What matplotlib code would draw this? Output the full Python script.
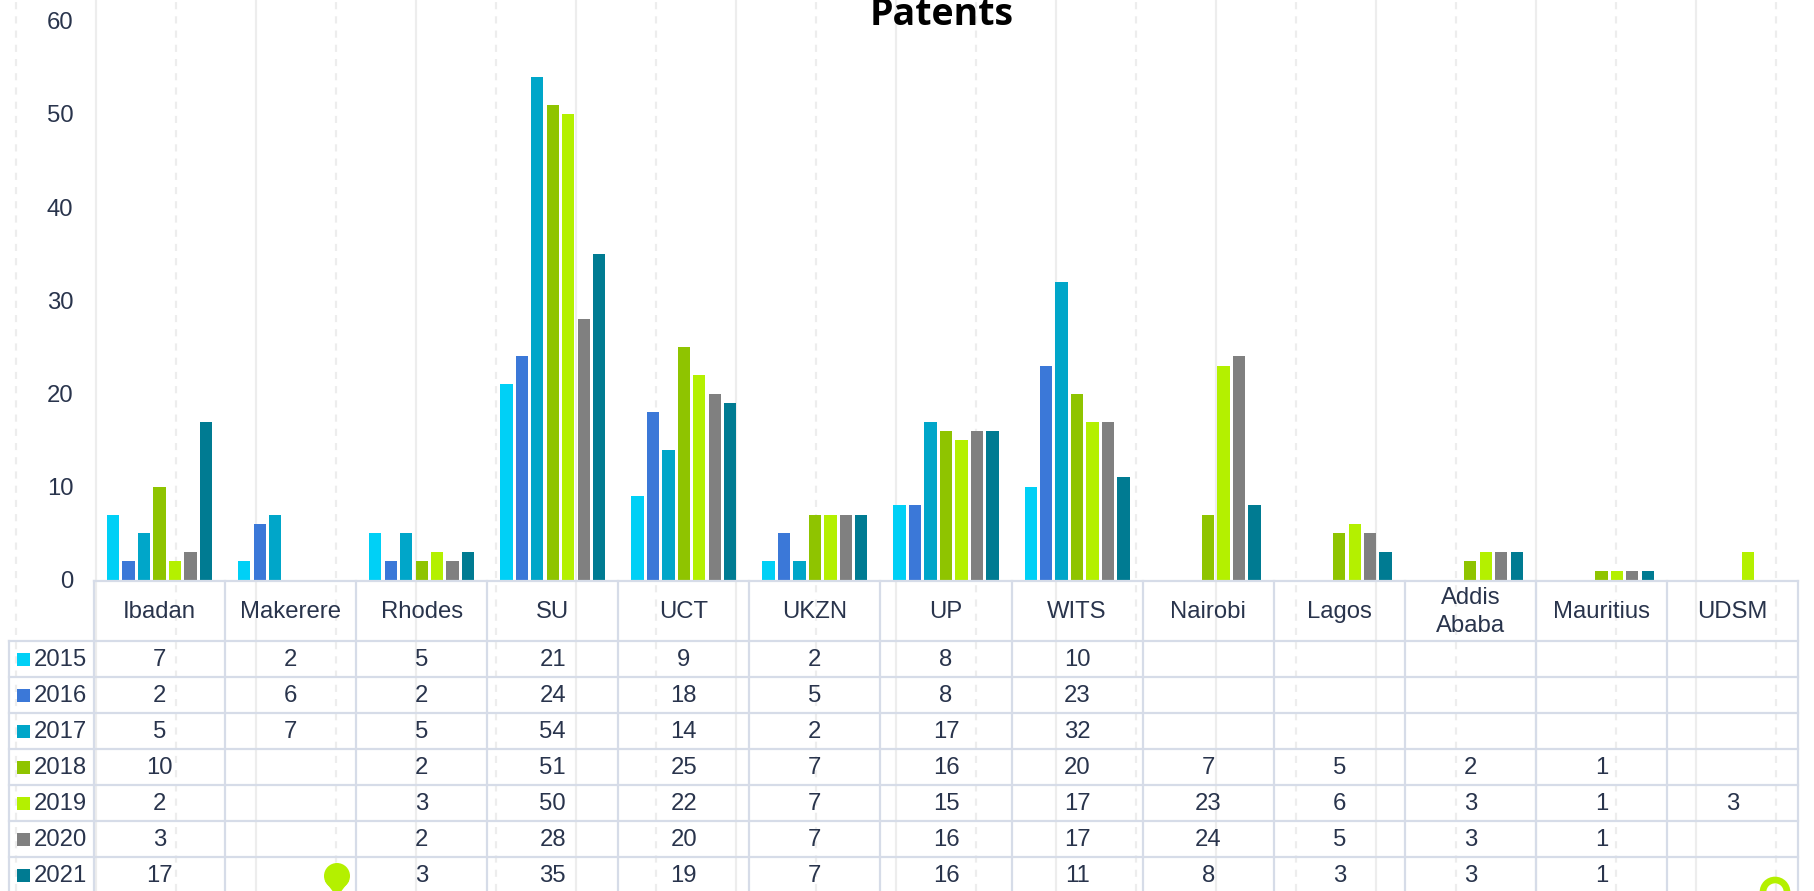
import numpy as np
import matplotlib
matplotlib.use("Agg")
import matplotlib.pyplot as plt
from matplotlib.lines import Line2D
from matplotlib.patches import Circle, Polygon, Rectangle

# ---------------- data ----------------
categories = ["Ibadan", "Makerere", "Rhodes", "SU", "UCT", "UKZN", "UP", "WITS",
              "Nairobi", "Lagos", "Addis\nAbaba", "Mauritius", "UDSM"]
years = ["2015", "2016", "2017", "2018", "2019", "2020", "2021"]
N = None
v2015 = [7, 2, 5, 21, 9, 2, 8, 10, N, N, N, N, N]
v2016 = [2, 6, 2, 24, 18, 5, 8, 23, N, N, N, N, N]
v2017 = [5, 7, 5, 54, 14, 2, 17, 32, N, N, N, N, N]
v2018 = [10, N, 2, 51, 25, 7, 16, 20, 7, 5, 2, 1, N]
v2019 = [2, N, 3, 50, 22, 7, 15, 17, 23, 6, 3, 1, 3]
v2020 = [3, N, 2, 28, 20, 7, 16, 17, 24, 5, 3, 1, N]
v2021 = [17, N, 3, 35, 19, 7, 16, 11, 8, 3, 3, 1, N]
series = [v2015, v2016, v2017, v2018, v2019, v2020, v2021]
yticks = [0, 10, 20, 30, 40, 50, 60]
colors = ["#00D0F6", "#3B78D8", "#00A6C9", "#8FC400", "#B4F000", "#808080", "#007B92"]

# ---------------- layout (pixels) ----------------
W, H = 1814, 891
TXT = "#29344C"
GRID = "#D6DCE8"
FONT = "Liberation Sans"
FS = 17.2

tbl_left, lbl_right, tbl_right = 9, 94, 1798
tbl_top, hdr_h, row_h = 581, 60, 36
col_w = (tbl_right - lbl_right) / len(categories)
y0_px, y60_px = 580, 20.8

fig = plt.figure(figsize=(W / 100, H / 100), dpi=100)
fig.patch.set_facecolor("white")

# background vertical slide lines
for k in range(0, 24):
    x = (16 + 80 * k) / W
    if k % 2 == 0:
        ln = Line2D([x, x], [0, 1], transform=fig.transFigure, color="#EDEDED",
                    lw=1.6, ls=(0, (3.2, 3.2)), zorder=0)
    else:
        ln = Line2D([x, x], [0, 1], transform=fig.transFigure, color="#EDEDED",
                    lw=1.6, zorder=0)
    fig.add_artist(ln)

# ---------------- bar axes ----------------
ax = fig.add_axes([lbl_right / W, (H - y0_px) / H,
                   (tbl_right - lbl_right) / W, (y0_px - y60_px) / H])
ax.set_facecolor("none")
x = np.arange(len(categories))
pitch, bw = 0.118, 0.094
for j, (vals, c) in enumerate(zip(series, colors)):
    h = np.array([np.nan if v is None else v for v in vals], dtype=float)
    ax.bar(x + (j - 3) * pitch, h, width=bw, color=c, edgecolor="none", zorder=2)
ax.set_xlim(-0.5, len(categories) - 0.5)
ax.set_ylim(0, 60)
ax.set_yticks(yticks)
ax.set_yticklabels([str(t) for t in yticks], fontsize=FS, color=TXT, family=FONT)
ax.tick_params(axis="y", length=0, pad=15)
ax.set_xticks([])
for s in ax.spines.values():
    s.set_visible(False)

# title (cut off at top as in the reference)
fig.text(942 / W, 1 - 25 / H, "Patents", ha="center", va="baseline",
         fontsize=27, fontweight="bold", family="Open Sans", color="black")

# ---------------- data table ----------------
at = fig.add_axes([0, 0, 1, 1])
at.set_xlim(0, W)
at.set_ylim(H, 0)
at.axis("off")
at.patch.set_alpha(0)

lw = 1.6
# header top line
at.plot([lbl_right, tbl_right], [tbl_top, tbl_top], color=GRID, lw=lw)
# row lines
for r in range(len(years) + 1):
    yy = tbl_top + hdr_h + r * row_h
    at.plot([tbl_left, tbl_right], [yy, yy], color=GRID, lw=lw)
# vertical lines
for i in range(len(categories) + 1):
    xx = lbl_right + i * col_w
    at.plot([xx, xx], [tbl_top, H + 5], color=GRID, lw=lw)
at.plot([tbl_left, tbl_left], [tbl_top + hdr_h, H + 5], color=GRID, lw=lw)

# header labels
for i, cat in enumerate(categories):
    at.text(lbl_right + (i + 0.5) * col_w, tbl_top + hdr_h / 2 + 1, cat,
            ha="center", va="center", fontsize=FS, color=TXT, family=FONT,
            linespacing=1.3)

# rows
for r, (yr, vals, c) in enumerate(zip(years, series, colors)):
    yc = tbl_top + hdr_h + (r + 0.5) * row_h
    at.add_patch(Rectangle((17, yc - 6.5), 13, 13, facecolor=c, edgecolor="none"))
    at.text(34, yc + 1, yr, ha="left", va="center", fontsize=FS, color=TXT, family=FONT)
    for i, v in enumerate(vals):
        if v is not None:
            at.text(lbl_right + (i + 0.5) * col_w, yc + 1, str(v), ha="center",
                    va="center", fontsize=FS, color=TXT, family=FONT)

# decorative lime markers
lime = "#B4F000"
at.add_patch(Circle((337, 876), 13, facecolor=lime, edgecolor="none", zorder=5))
at.add_patch(Polygon([(325, 881), (349, 881), (337, 897)], closed=True,
                     facecolor=lime, edgecolor="none", zorder=5))
at.add_patch(Circle((1775, 892), 12, facecolor="none", edgecolor=lime, lw=4.8, zorder=5))

fig.savefig("out.png", dpi=100, facecolor="white")
